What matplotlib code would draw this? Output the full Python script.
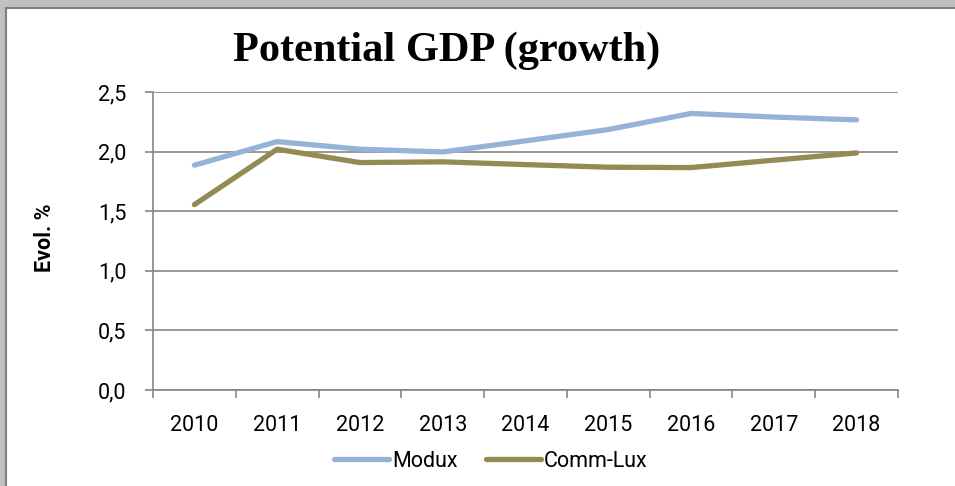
import matplotlib
matplotlib.use("Agg")
import matplotlib.pyplot as plt
from matplotlib.patches import Rectangle
from matplotlib.lines import Line2D

years = ["2010", "2011", "2012", "2013", "2014", "2015", "2016", "2017", "2018"]
modux = [1.886, 2.084, 2.02, 1.997, 2.09, 2.185, 2.32, 2.29, 2.266]
comm_lux = [1.555, 2.02, 1.908, 1.914, 1.891, 1.869, 1.866, 1.928, 1.989]
y_ticks = [0.0, 0.5, 1.0, 1.5, 2.0, 2.5]
y_tick_labels = ["0,0", "0,5", "1,0", "1,5", "2,0", "2,5"]

W, H = 955, 486
FS = 15.5
fig = plt.figure(figsize=(W / 100, H / 100), dpi=100)
fig.patch.set_facecolor("white")

# outer gray frame (top and left)
fig.patches.append(Rectangle((0, 1 - 8 / H), 1, 8 / H, transform=fig.transFigure,
                             facecolor="#c0c0c0", edgecolor="none", zorder=0))
fig.patches.append(Rectangle((0, 0), 5 / W, 1, transform=fig.transFigure,
                             facecolor="#c0c0c0", edgecolor="none", zorder=0))
fig.lines.append(Line2D([5.5 / W, 1], [1 - 8.5 / H, 1 - 8.5 / H], transform=fig.transFigure,
                        color="#7f7f7f", lw=1.5))
fig.lines.append(Line2D([5.5 / W, 5.5 / W], [0, 1 - 8.5 / H], transform=fig.transFigure,
                        color="#7f7f7f", lw=1.5))

ax = fig.add_axes([153 / W, 1 - 390 / H, (898 - 153) / W, (390 - 92) / H])
x = list(range(len(years)))
ax.plot(x, modux, color="#95B3D7", lw=3.8, solid_capstyle="round", label="Modux", zorder=3)
ax.plot(x, comm_lux, color="#948A54", lw=3.8, solid_capstyle="round", label="Comm-Lux", zorder=3)

ax.set_xlim(-0.5, len(years) - 0.5)
ax.set_ylim(0, 2.5)

ax.set_yticks(y_ticks)
ax.set_yticklabels(y_tick_labels)
ax.yaxis.grid(True, color="#868686", lw=1.2)
ax.set_axisbelow(True)

ax.set_xticks([i - 0.5 for i in range(len(years) + 1)])
ax.set_xticklabels([])
ax.set_xticks(x, minor=True)
ax.set_xticklabels(years, minor=True)
ax.tick_params(axis="x", which="minor", length=0, pad=18)
ax.tick_params(axis="x", which="major", length=6, width=1.2, color="#868686")
ax.tick_params(axis="y", length=6, width=1.2, color="#868686", pad=13)

for lab in ax.get_xticklabels(minor=True) + ax.get_yticklabels():
    lab.set_fontfamily("Roboto")
    lab.set_fontsize(FS)
    lab.set_color("black")

for s in ["top", "right"]:
    ax.spines[s].set_visible(False)
for s in ["left", "bottom"]:
    ax.spines[s].set_color("#868686")
    ax.spines[s].set_linewidth(1.2)

fig.text(447 / W, 1 - 51 / H, "Potential GDP (growth)", ha="center", va="center",
         fontfamily="Liberation Serif", fontweight="bold", fontsize=30.5)
fig.text(45 / W, 1 - 238 / H, "Evol. %", ha="center", va="center", rotation=90,
         fontfamily="Roboto", fontweight="bold", fontsize=FS)

leg = fig.legend(loc="center", bbox_to_anchor=(491 / W, 1 - 461 / H), ncol=2, frameon=False,
                 prop={"family": "Roboto", "size": FS}, handlelength=2.55,
                 handletextpad=0.15, columnspacing=1.3, borderaxespad=0)

fig.savefig("out.png", dpi=100, facecolor=fig.get_facecolor())
